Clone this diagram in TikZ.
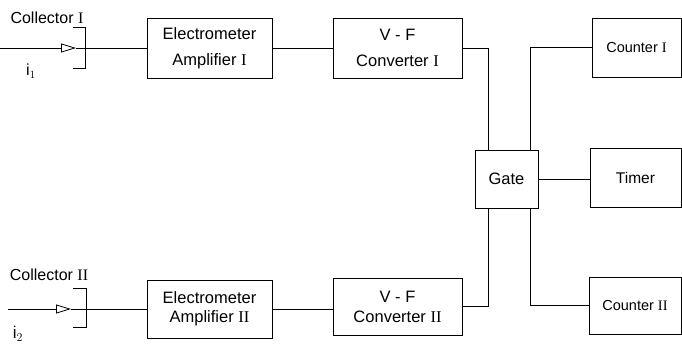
\documentclass[tikz,border=0pt]{standalone}
\usepackage{fontspec}
\setmainfont{Liberation Sans}
\newfontfamily\numfont{Liberation Serif}
\usetikzlibrary{arrows.meta,calc}
\newcommand{\rn}[1]{{\numfont #1}}
\tikzset{
  blk/.style={draw, line width=0.8pt, rectangle, align=center, inner sep=0pt},
  wire/.style={line width=0.8pt},
  lbl/.style={inner sep=0pt, font=\fontsize{16}{19}\selectfont},
  tip/.style={-{Triangle[open, length=15pt, width=9pt, line width=0.8pt]}}
}
\begin{document}
\begin{tikzpicture}[x=1pt, y=-1pt]
  \useasboundingbox (0,0) rectangle (682,344);

  % upper channel
  \node[blk, minimum width=125pt, minimum height=60pt,
        font=\fontsize{16.5}{26}\selectfont] (amp1) at (209.5,48)
        {Electrometer\\Amplifier \rn{I}};
  \node[blk, minimum width=129pt, minimum height=60pt,
        font=\fontsize{16.5}{26}\selectfont] (vf1) at (397.5,48)
        {V - F\\Converter \rn{I}};

  % lower channel
  \node[blk, minimum width=125pt, minimum height=58pt,
        font=\fontsize{16.5}{19}\selectfont] (amp2) at (209.5,309)
        {Electrometer\\Amplifier \rn{II}};
  \node[blk, minimum width=129pt, minimum height=57pt,
        font=\fontsize{16.5}{20}\selectfont] (vf2) at (397.5,306.5)
        {V - F\\Converter \rn{II}};

  % gate and outputs
  \node[blk, minimum width=63pt, minimum height=58pt,
        font=\fontsize{16.5}{19}\selectfont] (gate) at (506.5,179) {Gate};
  \node[blk, minimum width=89pt, minimum height=59pt,
        font=\fontsize{14.5}{17}\selectfont] (c1) at (636.5,47.5) {Counter \rn{I}};
  \node[blk, minimum width=91pt, minimum height=59pt,
        font=\fontsize{15.5}{18}\selectfont] (timer) at (635.5,177.5) {Timer};
  \node[blk, minimum width=92pt, minimum height=57pt,
        font=\fontsize{14.5}{17}\selectfont] (c2) at (635,305.5) {Counter \rn{II}};

  % collector inputs
  \node[lbl] (col1) at (47,18) {Collector \rn{I}};
  \node[lbl] (i1) at (31,71) {i$_1$};
  \node[lbl] (col2) at (49,275) {Collector \rn{II}};
  \node[lbl, font=\fontsize{17}{20}\selectfont] (i2) at (18,334) {i$_2$};

  \coordinate (in1) at (0,48);
  \coordinate (t1) at (76,48);
  \coordinate (in2) at (8,309);
  \coordinate (t2) at (71,309);

  \draw[wire, tip] (in1) -- (t1);
  \draw[wire] (t1) -- (amp1.west);
  \draw[wire] (73,27) -- (85,27) -- (85,68) -- (73,68);

  \draw[wire, tip] (in2) -- (t2);
  \draw[wire] (t2) -- (amp2.west);
  \draw[wire] (73,288) -- (86,288) -- (86,327) -- (73,327);

  % signal path
  \coordinate (gl) at (488,0);
  \coordinate (gr) at (530,0);
  \draw[wire] (amp1) -- (vf1);
  \draw[wire] (amp2.east) -- (amp2.east -| vf2.west);
  \draw[wire] (vf1.east) -| (gate.north -| gl);
  \draw[wire] (vf2.east) -| (gate.south -| gl);
  \draw[wire] (gate.north -| gr) |- (c1.west);
  \draw[wire] (gate.south -| gr) |- (c2.west);
  \draw[wire] (gate.east) -- (gate.east -| timer.west);
\end{tikzpicture}
\end{document}
